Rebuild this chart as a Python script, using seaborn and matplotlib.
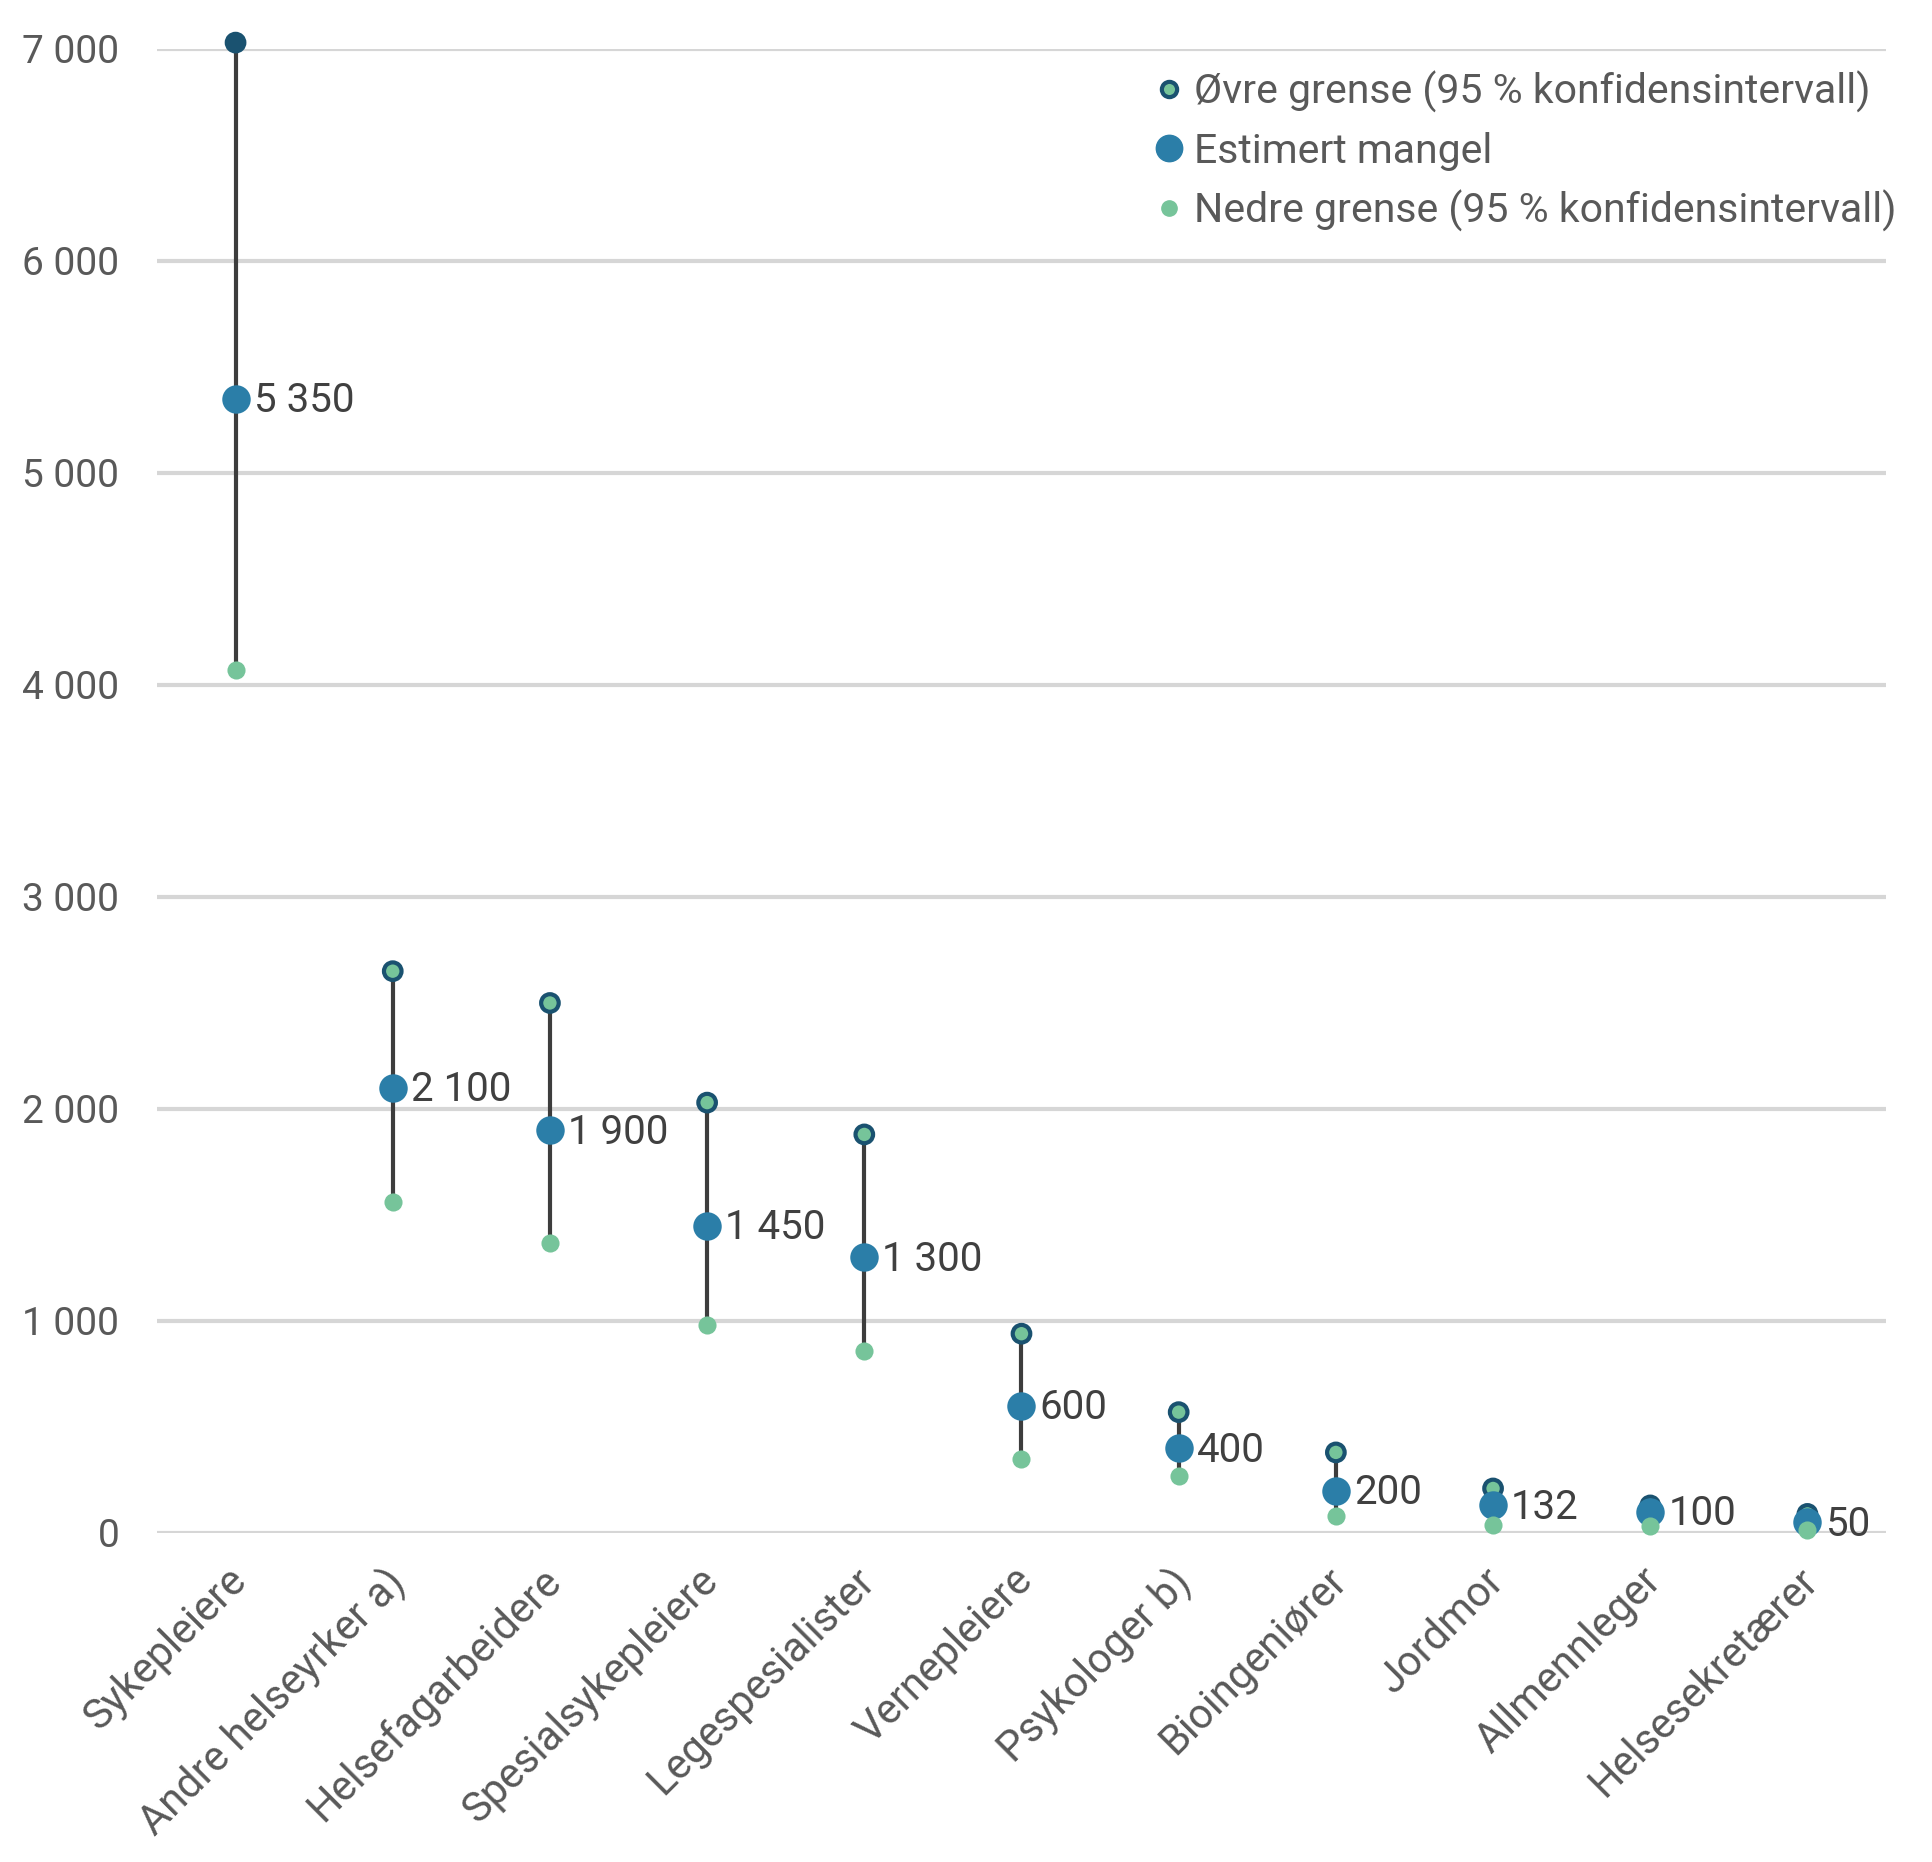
import matplotlib
matplotlib.use("Agg")
import matplotlib.pyplot as plt
import matplotlib.transforms as mtransforms
import seaborn as sns
import pandas as pd
from matplotlib.lines import Line2D

categories = ["Sykepleiere", "Andre helseyrker a)", "Helsefagarbeidere", "Spesialsykepleiere",
              "Legespesialister", "Vernepleiere", "Psykologer b)", "Bioingeniører",
              "Jordmor", "Allmennleger", "Helsesekretærer"]
upper = [7030, 2650, 2500, 2030, 1880, 940, 570, 380, 210, 130, 90]
estimate = [5350, 2100, 1900, 1450, 1300, 600, 400, 200, 132, 100, 50]
lower = [4070, 1560, 1370, 980, 860, 350, 270, 80, 40, 35, 15]
estimate_labels = ["5 350", "2 100", "1 900", "1 450", "1 300", "600", "400", "200", "132", "100", "50"]
yticks = [0, 1000, 2000, 3000, 4000, 5000, 6000, 7000]
ytick_labels = ["0", "1 000", "2 000", "3 000", "4 000", "5 000", "6 000", "7 000"]
legend_labels = ["Øvre grense (95 % konfidensintervall)", "Estimert mangel",
                 "Nedre grense (95 % konfidensintervall)"]

df = pd.DataFrame({"yrke": categories, "upper": upper, "estimate": estimate, "lower": lower})

DARK = "#1a5270"
BLUE = "#2b7ea8"
GREEN = "#76c49a"
LINE = "#3d3d3d"
GRID = "#d6d6d6"
TICK = "#595959"
TEXT = "#404040"

sns.set_theme(style="white")
plt.rcParams["font.family"] = ["Roboto", "DejaVu Sans"]

fig = plt.figure(figsize=(19.33, 18.62), dpi=100)
ax = fig.add_axes([0.0812, 0.1767, 0.8945, 0.797])

ax.vlines(df["yrke"], df["lower"], df["upper"], color=LINE, lw=3, zorder=2)

upper_face = [DARK] + [GREEN] * (len(categories) - 1)
sns.scatterplot(data=df, x="yrke", y="upper", ax=ax, s=160, color=GREEN,
                edgecolor=DARK, linewidth=3, zorder=3, clip_on=False, legend=False)
ax.collections[-1].set_facecolor(upper_face)
sns.scatterplot(data=df, x="yrke", y="estimate", ax=ax, s=420, color=BLUE,
                edgecolor=BLUE, linewidth=0, zorder=4, clip_on=False, legend=False)
sns.scatterplot(data=df, x="yrke", y="lower", ax=ax, s=170, color=GREEN,
                edgecolor=GREEN, linewidth=0, zorder=5, clip_on=False, legend=False)

for i, (v, lab) in enumerate(zip(estimate, estimate_labels)):
    ax.annotate(lab, (i, v), xytext=(13, -1.5), textcoords="offset points",
                ha="left", va="center", fontsize=29, color=TEXT, zorder=6)

ax.set_xlim(-0.5, len(categories) - 0.5)
ax.set_ylim(0, 7000)
ax.set_yticks(yticks)
ax.set_yticklabels(ytick_labels)
ax.yaxis.grid(True, color=GRID, lw=3)
ax.set_axisbelow(True)
for s in ax.spines.values():
    s.set_visible(False)
ax.tick_params(axis="y", length=0, pad=27, labelsize=28, labelcolor=TICK)
ax.tick_params(axis="x", length=0, pad=18, labelsize=30, labelcolor=TICK)
shift = mtransforms.ScaledTranslation(-10 / 100, -2 / 100, fig.dpi_scale_trans)
for lab in ax.get_xticklabels():
    lab.set_rotation(45)
    lab.set_ha("right")
    lab.set_rotation_mode("anchor")
    lab.set_transform(lab.get_transform() + shift)
ax.set_xlabel("")
ax.set_ylabel("")

handles = [
    Line2D([], [], ls="none", marker="o", markersize=11, markerfacecolor=GREEN,
           markeredgecolor=DARK, markeredgewidth=3),
    Line2D([], [], ls="none", marker="o", markersize=19, markerfacecolor=BLUE,
           markeredgecolor=BLUE),
    Line2D([], [], ls="none", marker="o", markersize=11, markerfacecolor=GREEN,
           markeredgecolor=GREEN),
]
leg = fig.legend(handles, legend_labels, loc="upper left", bbox_to_anchor=(0.594, 0.962),
                 frameon=False, fontsize=29.5, handlelength=1.0, handletextpad=0.12,
                 labelspacing=0.46, borderpad=0, borderaxespad=0)
for t in leg.get_texts():
    t.set_color(TICK)

fig.savefig("out.png", dpi=100)
